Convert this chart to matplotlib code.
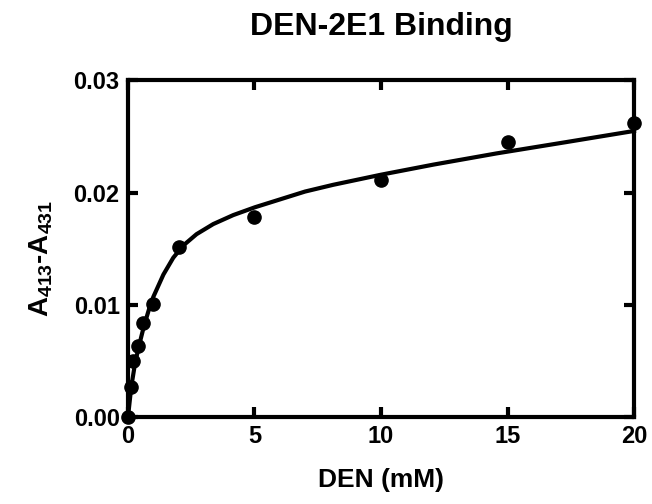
import matplotlib
matplotlib.use("Agg")
import matplotlib.pyplot as plt

plt.rcParams['font.family'] = ['Liberation Sans', 'DejaVu Sans']
plt.rcParams['font.weight'] = 'bold'
plt.rcParams['mathtext.fontset'] = 'custom'
plt.rcParams['mathtext.rm'] = 'Liberation Sans:bold'
plt.rcParams['mathtext.bf'] = 'Liberation Sans:bold'

# data points
den_mM = [0, 0.1, 0.2, 0.4, 0.6, 1, 2, 5, 10, 15, 20]
absorbance = [0.0, 0.00265, 0.0050, 0.0063, 0.0084, 0.0101, 0.0152, 0.0178, 0.0211, 0.0245, 0.0262]

# fitted curve
fit_x = [0, 0.13, 0.28, 0.43, 0.63, 0.83, 1.0, 1.4, 1.79, 2.19, 2.71, 3.37, 4.16,
         5.02, 6.01, 7.0, 8.11, 10.0, 12.07, 14.57, 17.3, 20.0]
fit_y = [0, 0.0027, 0.0048, 0.0063, 0.0081, 0.0096, 0.0107, 0.0127, 0.0142, 0.0153,
         0.0163, 0.0172, 0.0180, 0.0187, 0.0194, 0.0201, 0.0207, 0.0216, 0.0225,
         0.0235, 0.0245, 0.0255]

x_ticks = [0, 5, 10, 15, 20]
y_ticks = [0.00, 0.01, 0.02, 0.03]

fig = plt.figure(figsize=(6.52, 5.04), dpi=100)
ax = fig.add_axes([0.1963, 0.1726, 0.7761, 0.6677])

ax.plot(fit_x, fit_y, color='black', lw=3, clip_on=False, zorder=3,
        solid_joinstyle='round')
ax.plot(den_mM, absorbance, 'o', color='black', ms=9.5, clip_on=False, zorder=4)

ax.set_xlim(0, 20)
ax.set_ylim(0, 0.03)
ax.set_xticks(x_ticks)
ax.set_yticks(y_ticks)
ax.set_yticklabels(['%.2f' % v for v in y_ticks])
ax.tick_params(direction='in', length=7, width=3, labelsize=17,
               top=True, right=True, pad=6)
for s in ax.spines.values():
    s.set_linewidth(3)

ax.set_title('DEN-2E1 Binding', fontsize=23, fontweight='bold', pad=33)
ax.set_xlabel('DEN (mM)', fontsize=19, fontweight='bold', labelpad=14)
ax.set_ylabel('A$_{413}$-A$_{431}$', fontsize=20, fontweight='bold')
ax.yaxis.set_label_coords(-0.145, 0.47)

fig.savefig('out.png', dpi=100)
